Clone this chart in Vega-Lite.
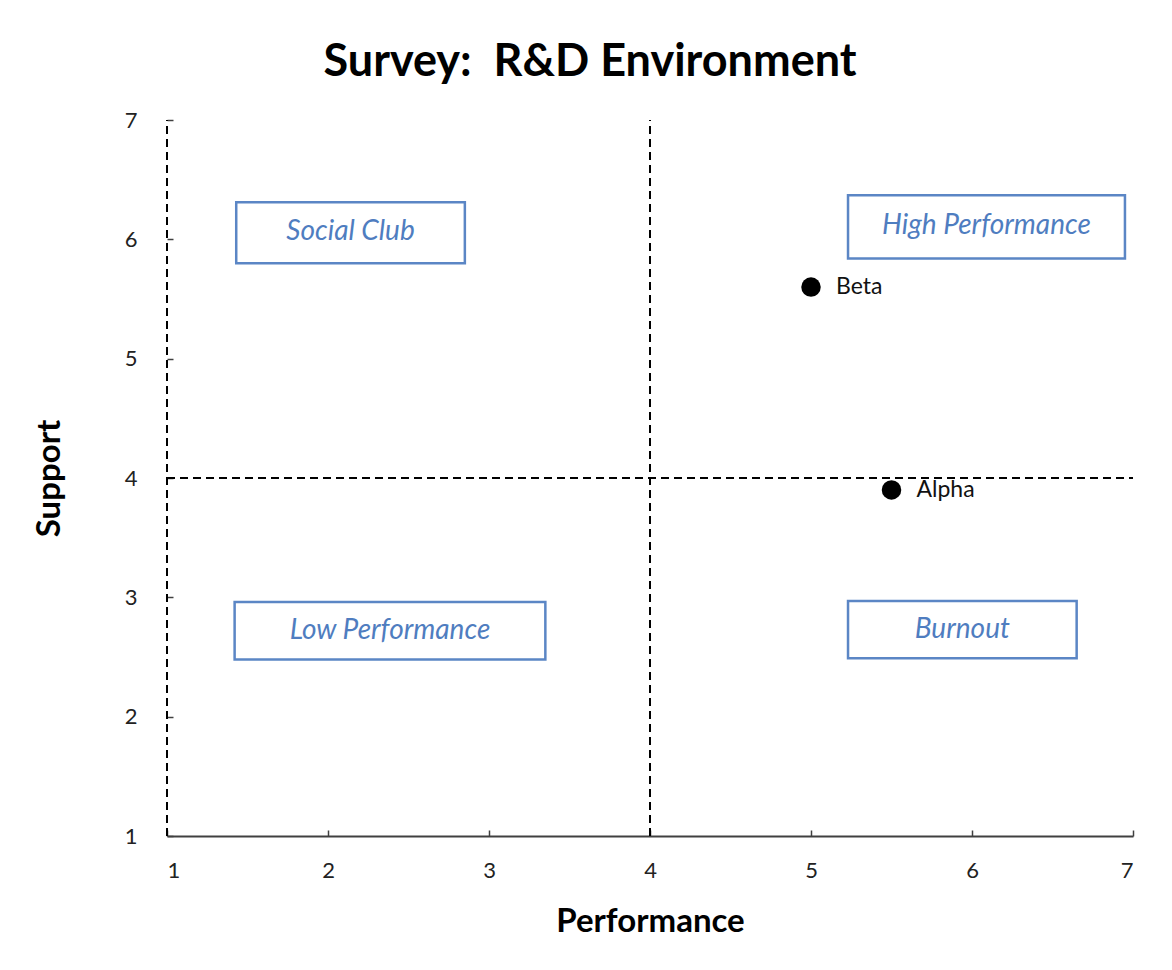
{
  "$schema": "https://vega.github.io/schema/vega-lite/v6.json",
  "width": 966,
  "height": 716,
  "autosize": "none",
  "padding": {"left": 167, "top": 120, "right": 39, "bottom": 134},
  "background": "white",
  "config": {
    "view": {"stroke": null},
    "font": "Lato"
  },
  "title": {
    "text": "Survey:\u00a0 R&D Environment",
    "fontSize": 45,
    "fontWeight": "bold",
    "font": "Lato",
    "color": "#000000",
    "anchor": "middle",
    "dx": -60,
    "offset": 24
  },
  "datasets": {
    "points": [
      {"name": "Beta", "performance": 5.0, "support": 5.6},
      {"name": "Alpha", "performance": 5.5, "support": 3.9}
    ],
    "boxes": [
      {"label": "Social Club", "x1": 1.43, "x2": 2.85, "y1": 5.80, "y2": 6.31, "tx": 2.14, "ty": 6.06},
      {"label": "High Performance", "x1": 5.23, "x2": 6.95, "y1": 5.84, "y2": 6.37, "tx": 6.09, "ty": 6.11},
      {"label": "Low Performance", "x1": 1.42, "x2": 3.35, "y1": 2.48, "y2": 2.96, "tx": 2.385, "ty": 2.72},
      {"label": "Burnout", "x1": 5.23, "x2": 6.65, "y1": 2.49, "y2": 2.97, "tx": 5.94, "ty": 2.73}
    ],
    "vlines": [{"x": 1, "y1": 1, "y2": 7}, {"x": 4, "y1": 1, "y2": 7}],
    "hlines": [{"y": 4, "x1": 1, "x2": 7}]
  },
  "layer": [
    {
      "data": {"name": "vlines"},
      "mark": {"type": "rule", "strokeDash": [8, 5], "strokeWidth": 2, "color": "#000000"},
      "encoding": {
        "x": {"field": "x", "type": "quantitative", "scale": {"domain": [1, 7], "nice": false, "zero": false},
          "axis": {"title": "Performance", "titleFontSize": 33, "titleFontWeight": "bold", "titleColor": "#000000", "titlePadding": 24,
            "values": [1, 2, 3, 4, 5, 6, 7], "format": "d", "grid": false, "labelFontSize": 22, "labelColor": "#222222", "labelPadding": 30,
            "domainColor": "#404040", "domainWidth": 2, "tickColor": "#404040", "tickSize": -6, "tickWidth": 1.5, "labelFont": "Lato", "titleFont": "Lato"}},
        "y": {"field": "y1", "type": "quantitative", "scale": {"domain": [1, 7], "nice": false, "zero": false},
          "axis": {"title": "Support", "titleFontSize": 33, "titleFontWeight": "bold", "titleColor": "#000000", "titlePadding": 58,
            "values": [1, 2, 3, 4, 5, 6, 7], "format": "d", "grid": false, "labelFontSize": 22, "labelColor": "#222222", "labelPadding": 36,
            "domain": false, "tickColor": "#404040", "tickSize": -6, "tickWidth": 1.5, "labelFont": "Lato", "titleFont": "Lato"}},
        "y2": {"field": "y2"}
      }
    },
    {
      "data": {"name": "hlines"},
      "mark": {"type": "rule", "strokeDash": [8, 5], "strokeWidth": 2, "color": "#000000"},
      "encoding": {
        "y": {"field": "y", "type": "quantitative"},
        "x": {"field": "x1", "type": "quantitative"},
        "x2": {"field": "x2"}
      }
    },
    {
      "data": {"name": "boxes"},
      "mark": {"type": "rect", "fill": "white", "stroke": "#5B86C5", "strokeWidth": 2.5},
      "encoding": {
        "x": {"field": "x1", "type": "quantitative"},
        "x2": {"field": "x2"},
        "y": {"field": "y1", "type": "quantitative"},
        "y2": {"field": "y2"}
      }
    },
    {
      "data": {"name": "boxes"},
      "mark": {"type": "text", "fontSize": 28, "fontStyle": "italic", "color": "#4F7DC0", "font": "Lato", "align": "center", "baseline": "middle"},
      "encoding": {
        "x": {"field": "tx", "type": "quantitative"},
        "y": {"field": "ty", "type": "quantitative"},
        "text": {"field": "label"}
      }
    },
    {
      "data": {"name": "points"},
      "mark": {"type": "circle", "size": 380, "color": "#000000", "opacity": 1},
      "encoding": {
        "x": {"field": "performance", "type": "quantitative"},
        "y": {"field": "support", "type": "quantitative"}
      }
    },
    {
      "data": {"name": "points"},
      "mark": {"type": "text", "fontSize": 23, "color": "#111111", "align": "left", "baseline": "middle", "dx": 25, "font": "Lato"},
      "encoding": {
        "x": {"field": "performance", "type": "quantitative"},
        "y": {"field": "support", "type": "quantitative"},
        "text": {"field": "name"}
      }
    }
  ]
}
